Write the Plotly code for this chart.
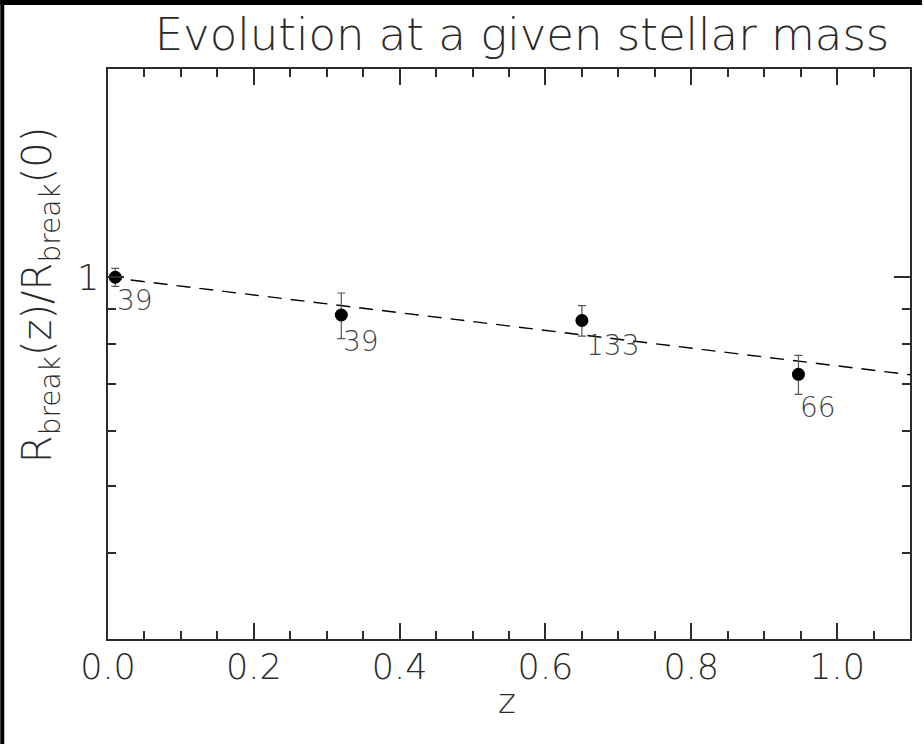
import numpy as np
import plotly.graph_objects as go

# Redshift bins and normalised break radius at fixed stellar mass
z_bins = [0.01, 0.32, 0.65, 0.947]
ratio = [1.0, 0.882, 0.866, 0.724]
ratio_err = [0.03, 0.067, 0.044, 0.047]
n_gal = [39, 39, 133, 66]

# Exponential fit, evaluated at the ends of the redshift range
fit_z = [0.0, 1.1]
fit_ratio = [1.0, 0.723]

# Axis ticks
x_major = [0.0, 0.2, 0.4, 0.6, 0.8, 1.0]
x_labels = ["0.0", "0.2", "0.4", "0.6", "0.8", "1.0"]
y_major = [1.0]
y_labels = ["1"]
y_minor = [0.4, 0.5, 0.6, 0.7, 0.8, 0.9]

FONT = "DejaVu Sans"
WEIGHT = 200
INK = "#2a2a2a"

W, H = 924, 744
L, R, T, B = 108, 12, 69, 105
pw, ph = W - L - R, H - T - B

fig = go.Figure()

fig.add_trace(go.Scatter(
    x=fit_z, y=fit_ratio, mode="lines",
    line=dict(color="black", width=1.4, dash="14px,9px"),
    hoverinfo="skip", showlegend=False,
))

fig.add_trace(go.Scatter(
    x=z_bins, y=ratio, mode="markers",
    marker=dict(color="black", size=13, symbol="circle"),
    error_y=dict(type="data", array=ratio_err, visible=True,
                 color="#555555", thickness=1.2, width=4),
    showlegend=False,
))

# Sample size next to each point
label_dx = [0, 0, 2, 0]
label_dy = [12, 15, 14, 22]
for zi, ri, n, dx, dy in zip(z_bins, ratio, n_gal, label_dx, label_dy):
    fig.add_annotation(
        x=zi, y=np.log10(ri), xref="x", yref="y",
        text=str(n), showarrow=False,
        xanchor="left", yanchor="top",
        xshift=dx, yshift=-(dy - 7),
        font=dict(family=FONT, size=28, color="#444444", weight=WEIGHT),
    )

# Vertical axis title, placed a little above the middle of the frame
fig.add_annotation(
    x=(40 - L) / pw, y=(H - B - 295) / ph, xref="paper", yref="paper",
    text="R<sub>break</sub>(z)/R<sub>break</sub>(0)", showarrow=False,
    textangle=-90, xanchor="center", yanchor="middle",
    font=dict(family=FONT, size=40, color=INK, weight=WEIGHT),
)

# Horizontal axis title
fig.add_annotation(
    x=(508 - L) / pw, y=(H - B - 701) / ph, xref="paper", yref="paper",
    text="z", showarrow=False, xanchor="center", yanchor="middle",
    font=dict(family=FONT, size=34, color=INK, weight=WEIGHT),
)

axis_common = dict(
    showline=True, linecolor=INK, linewidth=1.5, mirror="allticks",
    ticks="inside", ticklen=16, tickwidth=1.5, tickcolor=INK,
    showgrid=False, zeroline=False,
    tickfont=dict(family=FONT, size=35, color=INK, weight=WEIGHT),
)

fig.update_xaxes(
    range=[0.0, 1.1], tickmode="array", tickvals=x_major, ticktext=x_labels,
    minor=dict(ticks="inside", ticklen=8, tickwidth=1.5, tickcolor=INK, dtick=0.05, tick0=0),
    ticklabelstandoff=-4,
    **axis_common,
)
fig.update_yaxes(
    type="log", range=[np.log10(0.3), np.log10(2.0)],
    tickmode="array", tickvals=y_major, ticktext=y_labels,
    minor=dict(ticks="inside", ticklen=8, tickwidth=1.5, tickcolor=INK, tickvals=y_minor),
    **axis_common,
)

# Dark frame strips along the top and left edges of the page
fig.add_shape(type="rect", xref="paper", yref="paper",
              x0=-L / pw, x1=(4 - L) / pw, y0=-B / ph, y1=(H - B) / ph,
              fillcolor="black", line_width=0, layer="above")
fig.add_shape(type="rect", xref="paper", yref="paper",
              x0=-L / pw, x1=(W - L) / pw, y0=(H - B - 5) / ph, y1=(H - B) / ph,
              fillcolor="black", line_width=0, layer="above")

fig.update_layout(
    width=W, height=H,
    margin=dict(l=L, r=R, t=T, b=B),
    paper_bgcolor="white", plot_bgcolor="white",
    title=dict(text="Evolution at a given stellar mass",
               xref="container", x=522 / W, xanchor="center",
               y=1 - 50 / H, yanchor="bottom",
               font=dict(family=FONT, size=45, color=INK, weight=WEIGHT)),
)

fig.write_html("out.html")
